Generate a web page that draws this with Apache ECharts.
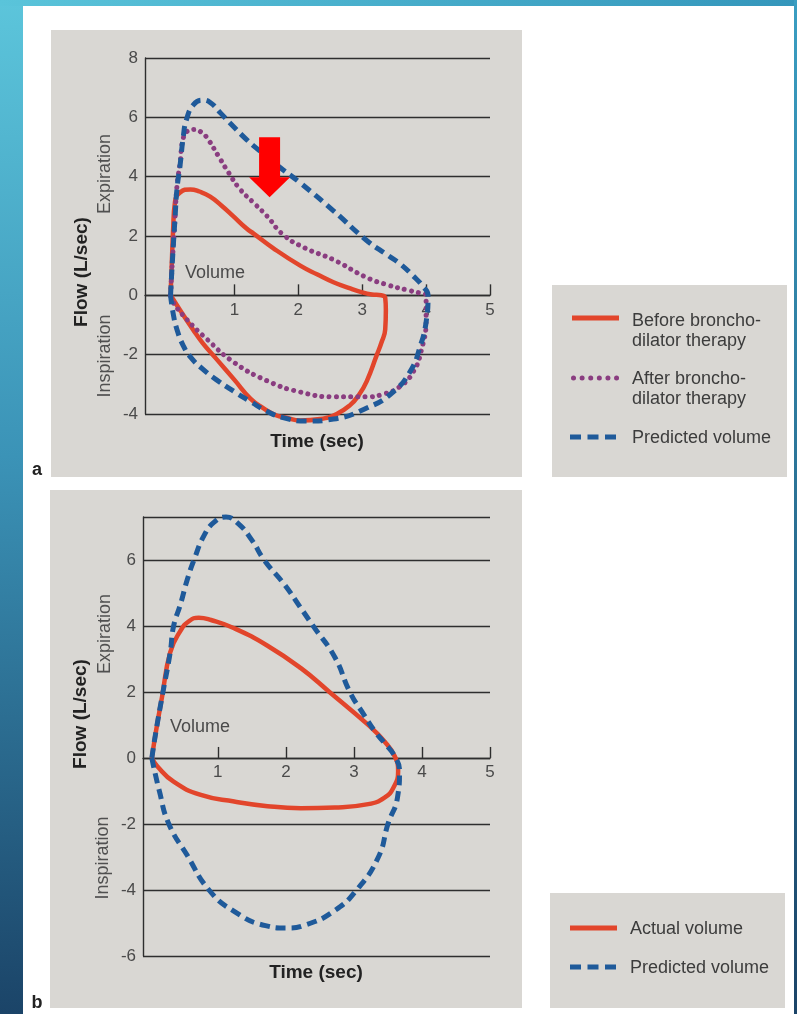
<!DOCTYPE html>
<html>
<head>
<meta charset="utf-8">
<title>Flow–volume loops</title>
<script src="https://cdn.jsdelivr.net/npm/echarts@6/dist/echarts.min.js"></script>
<style>
  html, body { margin: 0; padding: 0; background: #ffffff; }
  #chart { width: 797px; height: 1014px; }
</style>
</head>
<body>
<div id="chart"></div>
<script>
// ---- Data: [volume (L), flow (L/sec)] pairs tracing each loop ----

// Panel a: obstructive pattern before and after bronchodilator therapy
const beforeTherapy = [
  [0.00, 0.00], [0.02, 1.10], [0.04, 2.20], [0.07, 3.15], [0.15, 3.47], [0.31, 3.57],
  [0.45, 3.50], [0.62, 3.33], [0.80, 3.02], [0.98, 2.67], [1.19, 2.25], [1.30, 2.08],
  [1.60, 1.60], [2.03, 1.00], [2.30, 0.70], [2.55, 0.44], [2.80, 0.24], [3.00, 0.10],
  [3.15, 0.03], [3.30, 0.00], [3.36, -0.08], [3.37, -0.50], [3.36, -1.15], [3.30, -1.60],
  [3.23, -2.00], [3.07, -2.90], [2.95, -3.35], [2.81, -3.70], [2.60, -4.00], [2.34, -4.17],
  [2.03, -4.22], [1.80, -4.12], [1.66, -4.05], [1.45, -3.80], [1.25, -3.48], [1.00, -2.85],
  [0.72, -2.15], [0.50, -1.60], [0.35, -1.15], [0.15, -0.50], [0.00, 0.00]
];
const afterTherapy = [
  [0.00, 0.00], [0.03, 1.20], [0.07, 2.60], [0.10, 3.68], [0.15, 4.47], [0.20, 5.31],
  [0.28, 5.55], [0.38, 5.59], [0.48, 5.50], [0.57, 5.31], [0.75, 4.69], [0.91, 4.13],
  [1.09, 3.57], [1.30, 3.12], [1.51, 2.67], [1.76, 2.05], [2.10, 1.60], [2.55, 1.20],
  [3.07, 0.60], [3.40, 0.35], [3.70, 0.18], [3.90, 0.08], [4.00, 0.00], [4.00, -0.80],
  [3.92, -1.90], [3.80, -2.57], [3.60, -3.06], [3.30, -3.35], [3.07, -3.42], [2.55, -3.42],
  [2.03, -3.26], [1.51, -2.88], [0.98, -2.24], [0.57, -1.48], [0.25, -0.80], [0.04, -0.24],
  [0.00, 0.00]
];
const predictedA = [
  [0.00, 0.00], [0.03, 1.20], [0.07, 2.60], [0.10, 3.57], [0.15, 4.40], [0.20, 5.36],
  [0.25, 5.93], [0.36, 6.43], [0.50, 6.58], [0.62, 6.50], [0.78, 6.15], [0.98, 5.70],
  [1.19, 5.25], [1.40, 4.86], [1.72, 4.30], [2.03, 3.79], [2.55, 2.85], [3.07, 1.85],
  [3.40, 1.35], [3.60, 1.05], [3.80, 0.65], [3.95, 0.30], [4.03, 0.00], [4.00, -0.90],
  [3.91, -1.70], [3.75, -2.57], [3.46, -3.30], [3.07, -3.80], [2.55, -4.17], [2.13, -4.24],
  [1.76, -4.12], [1.50, -3.90], [1.25, -3.58], [1.00, -3.25], [0.72, -2.85], [0.50, -2.48],
  [0.32, -2.10], [0.20, -1.70], [0.10, -1.15], [0.04, -0.60], [0.00, 0.00]
];

// Panel b: restrictive pattern
const actualVolume = [
  [0.03, 0.00], [0.09, 0.80], [0.18, 1.85], [0.30, 3.20], [0.45, 3.85], [0.58, 4.15],
  [0.72, 4.25], [0.90, 4.18], [1.24, 3.93], [1.73, 3.40], [2.22, 2.72], [2.64, 2.00],
  [3.21, 1.00], [3.45, 0.50], [3.60, 0.05], [3.65, -0.40], [3.58, -0.90], [3.45, -1.20],
  [3.21, -1.40], [2.72, -1.50], [2.22, -1.52], [1.73, -1.46], [1.24, -1.32], [0.75, -1.12],
  [0.35, -0.72], [0.11, -0.25], [0.03, 0.00]
];
const predictedB = [
  [0.03, 0.00], [0.09, 0.80], [0.18, 1.85], [0.30, 3.20], [0.35, 4.00], [0.45, 4.65],
  [0.55, 5.40], [0.65, 6.00], [0.80, 6.75], [0.95, 7.15], [1.12, 7.30], [1.30, 7.10],
  [1.50, 6.60], [1.68, 6.00], [1.98, 5.25], [2.20, 4.60], [2.40, 4.00], [2.72, 3.05],
  [2.94, 2.00], [3.15, 1.30], [3.31, 0.80], [3.45, 0.45], [3.60, 0.05], [3.67, -0.40],
  [3.64, -1.20], [3.50, -2.00], [3.36, -3.00], [3.04, -4.00], [2.72, -4.62], [2.30, -5.05],
  [2.00, -5.15], [1.70, -5.08], [1.24, -4.65], [0.87, -4.00], [0.55, -2.95], [0.28, -2.00],
  [0.14, -1.00], [0.03, 0.00]
];

// Axis ranges, ticks and labels
const volumeTicks = [1, 2, 3, 4, 5];
const flowRangeA = [-4, 8];
const flowRangeB = [-6, 7.3];
const flowTicksB = [-6, -4, -2, 0, 2, 4, 6];

// Down arrow pointing at the improved expiratory limb (volume, flow)
const arrowAt = [1.55, 4.32];

// Series names
const NAME_BEFORE = 'Before broncho-\ndilator therapy';
const NAME_AFTER = 'After broncho-\ndilator therapy';
const NAME_PRED = 'Predicted volume';
const NAME_ACTUAL = 'Actual volume';

// ---- Layout ----
const GRID_A = { left: 145, top: 58, width: 345, height: 356 };
const GRID_B = { left: 143, top: 517, width: 347, height: 439 };

// ---- Styling ----
const FONT = "'Liberation Sans', Arial, Helvetica, sans-serif";
const RED = '#e2452b';
const PURPLE = '#8a3d80';
const BLUE = '#1f5a9a';
const INK = '#2e2e2e';
const PANEL = '#d9d7d3';

const axisLineStyle = { color: INK, width: 1.4 };

// The volume axis runs along flow = 0, inside the plot: shift it up from the grid bottom.
function xAxisFor(gridIndex, min, grid, flowRange) {
  const zeroOffset = -grid.height * (0 - flowRange[0]) / (flowRange[1] - flowRange[0]);
  return {
    gridIndex, type: 'value', min, max: 5,
    position: 'bottom', offset: zeroOffset,
    axisLine: { show: true, onZero: false, lineStyle: axisLineStyle },
    axisTick: { show: true, customValues: volumeTicks, inside: true, length: 11, lineStyle: axisLineStyle },
    axisLabel: { customValues: volumeTicks, color: '#4a4a4a', fontFamily: FONT, fontSize: 17, margin: 6 },
    splitLine: { show: false }
  };
}
function yAxisFor(gridIndex, flowRange, labelValues) {
  const label = { color: '#4a4a4a', fontFamily: FONT, fontSize: 17, margin: 7 };
  if (labelValues) label.customValues = labelValues;
  return {
    gridIndex, type: 'value', min: flowRange[0], max: flowRange[1], interval: 2,
    axisLine: { show: true, onZero: false, lineStyle: axisLineStyle },
    axisTick: { show: false },
    axisLabel: label,
    splitLine: { show: true, lineStyle: { color: INK, width: 1.4 } }
  };
}
function loop(name, data, axis, color, width, dash, cap) {
  return {
    name, type: 'line', data, xAxisIndex: axis, yAxisIndex: axis,
    smooth: 0.5, symbol: 'none', clip: false, silent: true,
    lineStyle: { color, width, type: dash, cap: cap || 'butt', join: 'round' },
    itemStyle: { color }
  };
}

// ---- Page frame, panels and annotation text ----
function txt(text, x, y, size, opts) {
  opts = opts || {};
  const align = opts.align || 'center';
  const valign = opts.valign || 'middle';
  return {
    type: 'text', x, y, rotation: opts.rot || 0, z: 20,
    style: {
      text, x: 0, y: 0,
      fill: opts.color || '#4a4a4a',
      font: (opts.bold ? 'bold ' : '') + size + 'px ' + FONT,
      align, textAlign: align, verticalAlign: valign, textVerticalAlign: valign,
      lineHeight: opts.lineHeight || size + 2
    }
  };
}
function rect(x, y, w, h, fill) {
  return { type: 'rect', z: -10, shape: { x, y, width: w, height: h }, style: { fill } };
}
function sample(x1, x2, y, color, width, dash, cap) {
  return {
    type: 'line', z: 20, shape: { x1, y1: y, x2, y2: y },
    style: { stroke: color, lineWidth: width, lineDash: dash || null, lineCap: cap || 'butt' }
  };
}

const ROT = Math.PI / 2;
const graphics = [
  // blue frame around the page
  rect(0, 0, 23, 1014, new echarts.graphic.LinearGradient(0, 0, 0, 1, [
    { offset: 0, color: '#5cc5db' }, { offset: 0.45, color: '#3b93b7' }, { offset: 1, color: '#1b4468' }
  ])),
  rect(0, 0, 797, 6, new echarts.graphic.LinearGradient(0, 0, 1, 0, [
    { offset: 0, color: '#5ac4da' }, { offset: 1, color: '#3496bb' }
  ])),
  rect(794, 0, 3, 1014, new echarts.graphic.LinearGradient(0, 0, 0, 1, [
    { offset: 0, color: '#3a9ec2' }, { offset: 1, color: '#1b4468' }
  ])),
  // grey panels
  rect(51, 30, 471, 447, PANEL),
  rect(552, 285, 235, 192, PANEL),
  rect(50, 490, 472, 518, PANEL),
  rect(550, 893, 235, 115, PANEL),

  // panel a labels
  txt('Expiration', 105, 174, 18, { rot: ROT, color: '#505050' }),
  txt('Inspiration', 105, 356, 18, { rot: ROT, color: '#505050' }),
  txt('Flow (L/sec)', 82, 272, 19, { rot: ROT, bold: true, color: '#222222' }),
  txt('Volume', 185, 273, 18, { align: 'left', color: '#4a4a4a' }),
  txt('Time (sec)', 317, 442, 19, { bold: true, color: '#222222' }),
  txt('a', 37, 470, 18, { bold: true, color: '#222222' }),

  // panel b labels
  txt('Expiration', 105, 634, 18, { rot: ROT, color: '#505050' }),
  txt('Inspiration', 103, 858, 18, { rot: ROT, color: '#505050' }),
  txt('Flow (L/sec)', 81, 714, 19, { rot: ROT, bold: true, color: '#222222' }),
  txt('Volume', 170, 727, 18, { align: 'left', color: '#4a4a4a' }),
  txt('Time (sec)', 316, 973, 19, { bold: true, color: '#222222' }),
  txt('b', 37, 1003, 18, { bold: true, color: '#222222' }),

  // legend, panel a
  sample(572, 619, 318, RED, 5),
  txt(NAME_BEFORE, 632, 311, 18, { align: 'left', valign: 'top', lineHeight: 20, color: '#3c3c3c' }),
  sample(573.5, 617.5, 378, PURPLE, 5, [0.01, 8.6], 'round'),
  txt(NAME_AFTER, 632, 369, 18, { align: 'left', valign: 'top', lineHeight: 20, color: '#3c3c3c' }),
  sample(570, 617, 437, BLUE, 5, [11, 6.5]),
  txt(NAME_PRED, 632, 438, 18, { align: 'left', color: '#3c3c3c' }),

  // legend, panel b
  sample(570, 617, 928, RED, 5),
  txt(NAME_ACTUAL, 630, 929, 18, { align: 'left', color: '#3c3c3c' }),
  sample(570, 617, 967, BLUE, 5, [11, 6.5]),
  txt(NAME_PRED, 630, 968, 18, { align: 'left', color: '#3c3c3c' })
];

const chart = echarts.init(document.getElementById('chart'), null, { renderer: 'canvas' });

const predictedASeries = loop(NAME_PRED, predictedA, 0, BLUE, 5, [10, 6]);
predictedASeries.markPoint = {
  silent: true,
  symbol: 'path://M10,0 L31,0 L31,40 L41,40 L20.5,60 L0,40 L10,40 Z',
  symbolSize: [41, 60],
  symbolKeepAspect: false,
  itemStyle: { color: '#ff0000' },
  label: { show: false },
  data: [{ coord: arrowAt }]
};

chart.setOption({
  animation: false,
  backgroundColor: '#ffffff',
  textStyle: { fontFamily: FONT },
  grid: [GRID_A, GRID_B],
  xAxis: [xAxisFor(0, -0.4, GRID_A, flowRangeA), xAxisFor(1, -0.1, GRID_B, flowRangeB)],
  yAxis: [yAxisFor(0, flowRangeA), yAxisFor(1, flowRangeB, flowTicksB)],
  series: [
    loop(NAME_BEFORE, beforeTherapy, 0, RED, 4.5),
    loop(NAME_AFTER, afterTherapy, 0, PURPLE, 5, [0.01, 7.2], 'round'),
    predictedASeries,
    loop(NAME_ACTUAL, actualVolume, 1, RED, 4.5),
    loop(NAME_PRED, predictedB, 1, BLUE, 5, [10, 6])
  ],
  graphic: { elements: graphics }
});
</script>
</body>
</html>
